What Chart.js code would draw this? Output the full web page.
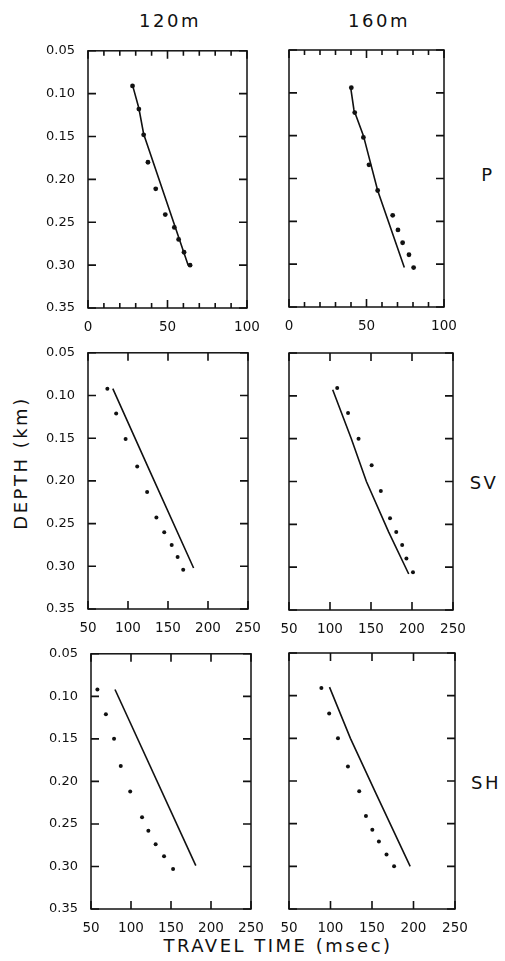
<!DOCTYPE html>
<html>
<head>
<meta charset="utf-8">
<script src="https://cdn.jsdelivr.net/npm/chart.js@4.4.1/dist/chart.umd.min.js"></script>
<style>
  body { margin: 0; background: #fff; }
  #page { position: relative; width: 505px; height: 961px; background: #fff; font-family: "DejaVu Sans", sans-serif; color: #111; overflow: hidden; }
  .panel { position: absolute; }
  .lbl { position: absolute; font-size: 18px; letter-spacing: 2.5px; white-space: nowrap; transform: translate(-50%, -50%); }
  .vert { transform: translate(-50%, -50%) rotate(-90deg); }
</style>
</head>
<body>
<div id="page">
  <div class="lbl" style="left:170px;top:20px">120m</div>
  <div class="lbl" style="left:379px;top:20px">160m</div>
  <div class="lbl" style="left:488px;top:174px">P</div>
  <div class="lbl" style="left:484px;top:482px">SV</div>
  <div class="lbl" style="left:486px;top:782px">SH</div>
  <div class="lbl vert" style="left:20px;top:463px">DEPTH (km)</div>
  <div class="lbl" style="left:278px;top:945px">TRAVEL TIME (msec)</div>

  <div class="panel" id="w1"><canvas id="c1"></canvas></div>
  <div class="panel" id="w2"><canvas id="c2"></canvas></div>
  <div class="panel" id="w3"><canvas id="c3"></canvas></div>
  <div class="panel" id="w4"><canvas id="c4"></canvas></div>
  <div class="panel" id="w5"><canvas id="c5"></canvas></div>
  <div class="panel" id="w6"><canvas id="c6"></canvas></div>
</div>
<script>
// axis ticks
const depthTicks = [0.05, 0.10, 0.15, 0.20, 0.25, 0.30, 0.35];
const pTimeTicks = [0, 10, 20, 30, 40, 50, 60, 70, 80, 90, 100];
const pTimeLabels = [0, 50, 100];
const sTimeTicks = [50, 100, 150, 200, 250];
const sTimeLabels = [50, 100, 150, 200, 250];

// P wave, 120 m
const p120Time = [28, 32, 35, 37.7, 42.6, 48.6, 54.3, 57, 60.4, 64.2];
const p120Depth = [0.091, 0.118, 0.148, 0.18, 0.211, 0.241, 0.256, 0.27, 0.285, 0.30];
const p120LineTime = [28, 32, 35, 63];
const p120LineDepth = [0.09, 0.117, 0.147, 0.30];

// P wave, 160 m
const p160Time = [40.2, 42.4, 48, 51.6, 57.2, 66.9, 70.3, 73.3, 77.4, 80.4];
const p160Depth = [0.094, 0.123, 0.152, 0.184, 0.214, 0.243, 0.26, 0.275, 0.289, 0.304];
const p160LineTime = [39.8, 41.9, 48, 57.2, 74.4];
const p160LineDepth = [0.094, 0.12, 0.15, 0.214, 0.304];

// SV wave, 120 m
const sv120Time = [74.2, 85.2, 97, 111.5, 123.9, 135.5, 145.3, 154.6, 162, 169];
const sv120Depth = [0.092, 0.121, 0.151, 0.183, 0.213, 0.243, 0.26, 0.275, 0.289, 0.304];
const sv120LineTime = [81, 128, 182];
const sv120LineDepth = [0.092, 0.19, 0.302];

// SV wave, 160 m
const sv160Time = [108.8, 122, 134.8, 150.8, 162, 173.2, 180.8, 188, 193.2, 201.2];
const sv160Depth = [0.091, 0.12, 0.15, 0.181, 0.211, 0.243, 0.259, 0.274, 0.29, 0.306];
const sv160LineTime = [103.3, 126, 144.4, 171.6, 196];
const sv160LineDepth = [0.093, 0.15, 0.20, 0.259, 0.308];

// SH wave, 120 m
const sh120Time = [58, 68.6, 78.8, 87.2, 99, 113.8, 121.7, 130.8, 141.3, 152.6];
const sh120Depth = [0.092, 0.121, 0.15, 0.182, 0.212, 0.242, 0.258, 0.274, 0.288, 0.303];
const sh120LineTime = [80, 181];
const sh120LineDepth = [0.092, 0.299];

// SH wave, 160 m
const sh160Time = [89, 98.4, 109, 121, 134.6, 142.7, 150.4, 158.3, 167.5, 176.6];
const sh160Depth = [0.091, 0.121, 0.15, 0.183, 0.212, 0.241, 0.257, 0.271, 0.286, 0.30];
const sh160LineTime = [98.8, 124, 155, 196];
const sh160LineDepth = [0.09, 0.15, 0.215, 0.30];

const INK = "#111";
const PAD_L = 50, PAD_T = 12, PAD_R = 22, PAD_B = 24;

const toXY = (xs, ys) => xs.map((x, i) => ({ x: x, y: ys[i] }));

// box frame with inward ticks on all four sides
function makeFrame(xTicks, minor) {
  return {
    id: "frame",
    afterDraw(chart) {
      const ctx = chart.ctx;
      const a = chart.chartArea;
      const xs = chart.scales.x, ys = chart.scales.y;
      ctx.save();
      ctx.strokeStyle = INK;
      ctx.lineWidth = 1.5;
      ctx.strokeRect(a.left, a.top, a.right - a.left, a.bottom - a.top);
      ctx.lineWidth = 1.6;
      ctx.beginPath();
      depthTicks.forEach((v) => {
        const py = ys.getPixelForValue(v);
        ctx.moveTo(a.left, py); ctx.lineTo(a.left + 8, py);
        ctx.moveTo(a.right, py); ctx.lineTo(a.right - 8, py);
      });
      xTicks.forEach((v) => {
        const px = xs.getPixelForValue(v);
        const len = minor && v % 50 !== 0 ? 5 : 8;
        ctx.moveTo(px, a.top); ctx.lineTo(px, a.top + len);
        ctx.moveTo(px, a.bottom); ctx.lineTo(px, a.bottom - len);
      });
      ctx.stroke();
      ctx.restore();
    }
  };
}

function makePanel(n, box, pts, line, xTicks, xLabels, showY, minor, dotR) {
  const [L, T, R, B] = box;
  const w = R - L + PAD_L + PAD_R;
  const h = B - T + PAD_T + PAD_B;
  const wrap = document.getElementById("w" + n);
  const cv = document.getElementById("c" + n);
  cv.width = w; cv.height = h;

  const chart = new Chart(cv, {
    type: "scatter",
    data: {
      datasets: [
        {
          data: pts,
          showLine: false,
          pointRadius: dotR,
          pointBackgroundColor: INK,
          pointBorderWidth: 0
        },
        {
          data: line,
          showLine: true,
          pointRadius: 0,
          borderColor: INK,
          borderWidth: 1.6,
          tension: 0
        }
      ]
    },
    options: {
      responsive: false,
      maintainAspectRatio: false,
      animation: false,
      layout: { padding: { left: 0, top: PAD_T, right: PAD_R, bottom: 0 } },
      plugins: { legend: { display: false }, tooltip: { enabled: false } },
      scales: {
        x: {
          type: "linear",
          min: xTicks[0],
          max: xTicks[xTicks.length - 1],
          afterBuildTicks: (s) => { s.ticks = xTicks.map((v) => ({ value: v })); },
          afterFit: (s) => { s.height = PAD_B; },
          grid: { display: false },
          border: { display: false },
          ticks: {
            autoSkip: false,
            maxRotation: 0,
            padding: 3,
            color: INK,
            font: { family: "DejaVu Sans", size: 13.5 },
            callback: (v) => (xLabels.includes(v) ? String(v) : "")
          }
        },
        y: {
          type: "linear",
          reverse: true,
          min: 0.05,
          max: 0.35,
          afterBuildTicks: (s) => { s.ticks = depthTicks.map((v) => ({ value: v })); },
          afterFit: (s) => { s.width = PAD_L; },
          grid: { display: false },
          border: { display: false },
          ticks: {
            display: showY,
            padding: 5,
            color: INK,
            font: { family: "DejaVu Sans", size: 13 },
            callback: (v) => v.toFixed(2)
          }
        }
      }
    },
    plugins: [makeFrame(xTicks, minor)]
  });

  // size the canvas so the plot box lands on the reference box
  let a = chart.chartArea;
  const dw = (R - L) - Math.round(a.right - a.left);
  const dh = (B - T) - Math.round(a.bottom - a.top);
  if (dw || dh) chart.resize(w + dw, h + dh);
  a = chart.chartArea;
  wrap.style.left = (L - a.left) + "px";
  wrap.style.top = (T - a.top) + "px";
  return chart;
}

makePanel(1, [88, 51, 247, 308], toXY(p120Time, p120Depth), toXY(p120LineTime, p120LineDepth), pTimeTicks, pTimeLabels, true, true, 2.4);
makePanel(2, [289, 50, 444, 307], toXY(p160Time, p160Depth), toXY(p160LineTime, p160LineDepth), pTimeTicks, pTimeLabels, false, true, 2.4);
makePanel(3, [88, 353, 248, 609], toXY(sv120Time, sv120Depth), toXY(sv120LineTime, sv120LineDepth), sTimeTicks, sTimeLabels, true, false, 2);
makePanel(4, [289, 353, 453, 610], toXY(sv160Time, sv160Depth), toXY(sv160LineTime, sv160LineDepth), sTimeTicks, sTimeLabels, false, false, 2);
makePanel(5, [91, 654, 251, 909], toXY(sh120Time, sh120Depth), toXY(sh120LineTime, sh120LineDepth), sTimeTicks, sTimeLabels, true, false, 2);
makePanel(6, [289, 653, 455, 909], toXY(sh160Time, sh160Depth), toXY(sh160LineTime, sh160LineDepth), sTimeTicks, sTimeLabels, false, false, 2);
</script>
</body>
</html>
